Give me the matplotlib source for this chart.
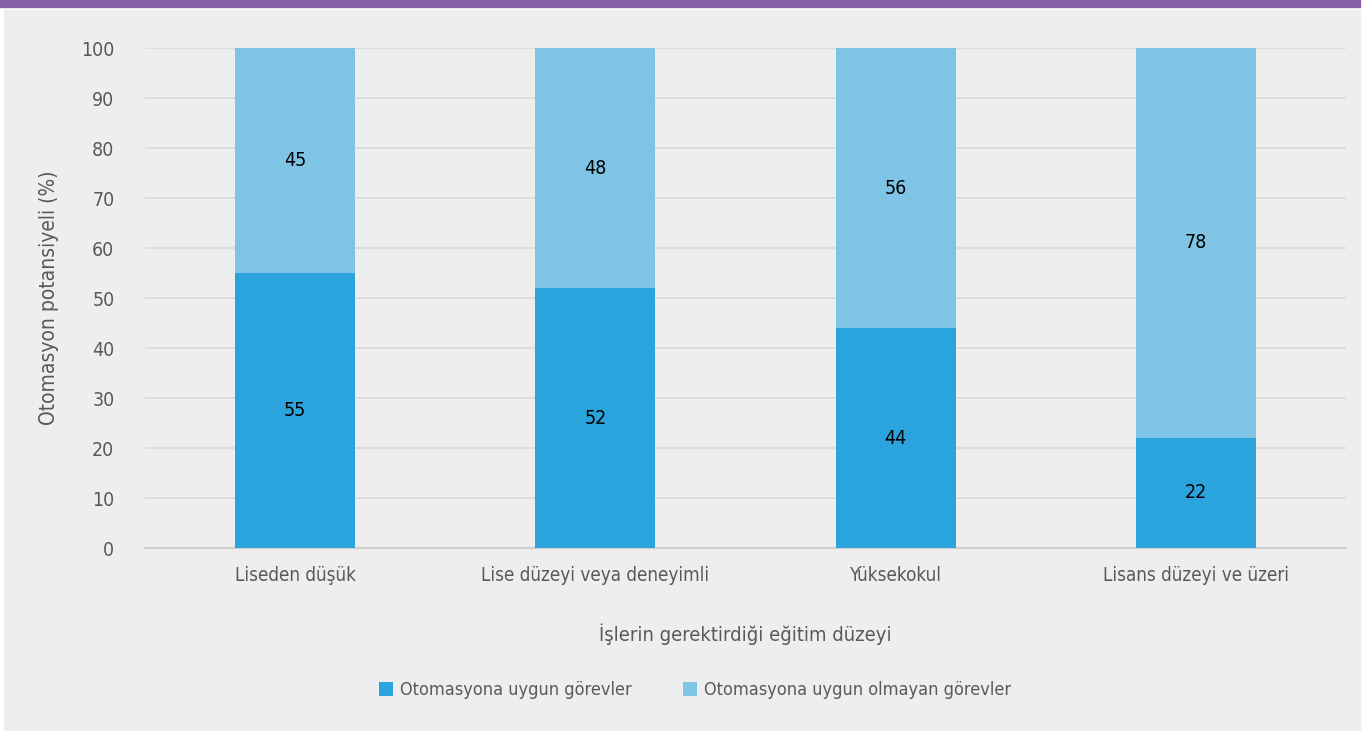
import matplotlib

matplotlib.use("Agg")
import matplotlib.pyplot as plt
from matplotlib.patches import Rectangle
import numpy as np

plt.rcParams["font.family"] = ["DejaVu Sans"]
plt.rcParams["font.stretch"] = "condensed"

# --- data ------------------------------------------------------------------
categories = [
    "Liseden düşük",
    "Lise düzeyi veya deneyimli",
    "Yüksekokul",
    "Lisans düzeyi ve üzeri",
]
automatable = [55, 52, 44, 22]
not_automatable = [45, 48, 56, 78]
series_names = ["Otomasyona uygun görevler", "Otomasyona uygun olmayan görevler"]
yticks = list(range(0, 101, 10))

# --- styling ---------------------------------------------------------------
DARK = "#2ba3dd"
LIGHT = "#80c4e5"
PANEL = "#eeeeee"
PURPLE = "#875fa6"
TEXT = "#595959"

fig = plt.figure(figsize=(13.68, 7.31), dpi=100)
fig.patch.set_facecolor("white")

# header band and grey panel behind the chart
fig.patches.append(Rectangle((0, 1 - 7 / 731), 1360 / 1368, 7 / 731,
                             transform=fig.transFigure, color=PURPLE, zorder=-2))
fig.patches.append(Rectangle((4 / 1368, 0), 1356 / 1368, 1 - 10 / 731,
                             transform=fig.transFigure, color=PANEL, zorder=-2))

ax = fig.add_axes([145 / 1368, 1 - 548 / 731, 1201 / 1368, 500 / 731])
ax.set_facecolor("none")

x = np.arange(len(categories))
b1 = ax.bar(x, automatable, width=0.4, color=DARK, zorder=3)
b2 = ax.bar(x, not_automatable, width=0.4, bottom=automatable, color=LIGHT, zorder=3)

for i in range(len(categories)):
    ax.text(x[i], automatable[i] / 2, str(automatable[i]),
            ha="center", va="center", fontsize=14, color="black", zorder=4)
    ax.text(x[i], automatable[i] + not_automatable[i] / 2, str(not_automatable[i]),
            ha="center", va="center", fontsize=14, color="black", zorder=4)

ax.set_xlim(-0.5, len(categories) - 0.5)
ax.set_ylim(0, 100)
ax.set_yticks(yticks)
ax.set_yticklabels([str(t) for t in yticks], fontsize=14, color=TEXT)
ax.set_xticks(x)
ax.set_xticklabels(categories, fontsize=13.5, color=TEXT)
ax.tick_params(axis="both", length=0)
ax.tick_params(axis="y", pad=22)
ax.tick_params(axis="x", pad=13)

ax.grid(axis="y", color="#d9d9d9", linewidth=1.2, zorder=0)
for side in ("top", "right", "left"):
    ax.spines[side].set_visible(False)
ax.spines["bottom"].set_color("#cfcfcf")
ax.spines["bottom"].set_linewidth(1.5)
ax.spines["bottom"].set_zorder(2)

ax.set_ylabel("Otomasyon potansiyeli (%)", fontsize=15, color=TEXT, labelpad=16)
ax.set_xlabel("İşlerin gerektirdiği eğitim düzeyi", fontsize=14.5, color=TEXT, labelpad=28)

leg = fig.legend([b1, b2], series_names, loc="center", bbox_to_anchor=(0.508, 1 - 690 / 731),
                 ncol=2, frameon=False, fontsize=13, handlelength=0.8, handleheight=0.8,
                 handletextpad=0.4, columnspacing=2.8)
for t in leg.get_texts():
    t.set_color(TEXT)

fig.savefig("out.png", dpi=100, facecolor=fig.get_facecolor())
